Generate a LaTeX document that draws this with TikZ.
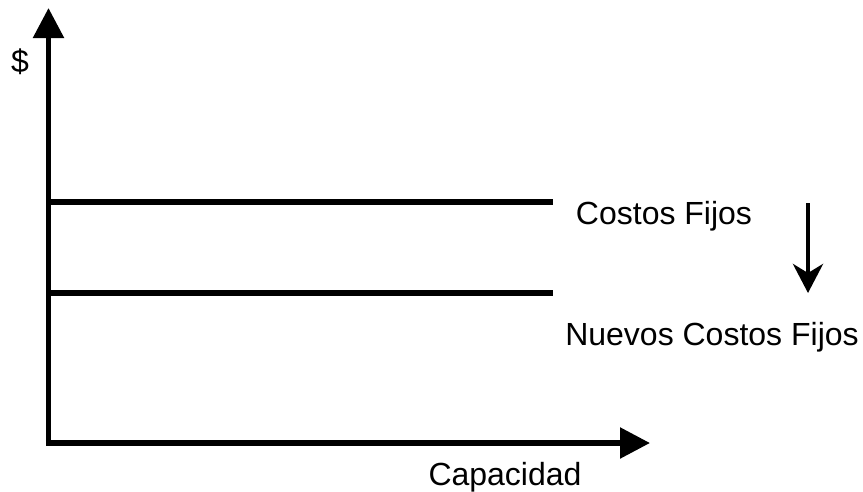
\documentclass[tikz,border=0pt]{standalone}
\usepackage{fontspec}
\setmainfont{Liberation Sans}
\usetikzlibrary{arrows.meta}
\begin{document}
\begin{tikzpicture}[x=1pt,y=-1pt,
  axis/.style={line width=5.5pt,-{Triangle[length=30pt,width=30pt]}},
  cost/.style={line width=5.5pt},
  lbl/.style={font=\fontsize{32}{38}\selectfont,inner sep=0pt,anchor=base},
  downarrow/.style={line width=4.5pt,-{Stealth[length=29pt,width=30pt,inset=9pt]}}]
\useasboundingbox (0,0) rectangle (863,491);
\coordinate (O) at (48.5,443);
\coordinate (Ytip) at (48.5,8);
\coordinate (Xtip) at (650,443);
\coordinate (A1) at (48.5,202);
\coordinate (A2) at (553,202);
\coordinate (B1) at (48.5,293);
\coordinate (B2) at (553,293);
\coordinate (S1) at (808,203);
\coordinate (S2) at (808,293);
\draw[cost] (A1) -- (A2);
\draw[cost] (B1) -- (B2);
\draw[axis] ([yshift=2.75pt]O) -- (Ytip);
\draw[axis] ([xshift=-2.75pt]O) -- (Xtip);
\draw[downarrow] (S1) -- (S2);
\node[lbl] (dollar) at (20,72) {\$};
\node[lbl] (cf) at (664,224) {Costos Fijos};
\node[lbl] (ncf) at (712,345) {Nuevos Costos Fijos};
\node[lbl] (cap) at (505,485) {Capacidad};
\end{tikzpicture}
\end{document}
